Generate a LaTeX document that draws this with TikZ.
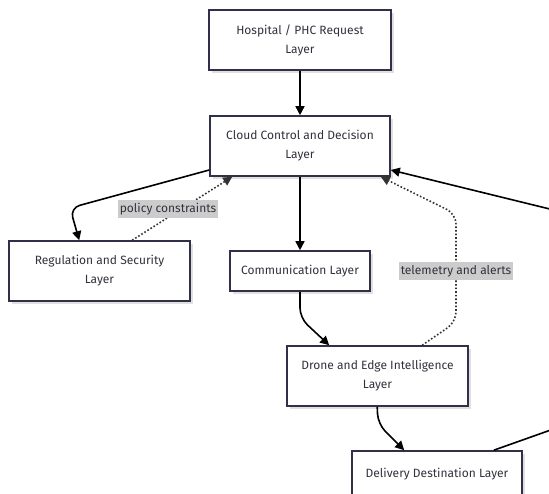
\documentclass[tikz,border=0pt]{standalone}
\usepackage{fontspec}
\setmainfont{Fira Sans}
\usetikzlibrary{arrows.meta,calc,shadows}
\definecolor{boxline}{RGB}{48,48,72}
\definecolor{txt}{RGB}{50,50,62}
\definecolor{lblbg}{RGB}{204,204,204}
\tikzset{
  layer/.style={draw=boxline, line width=1.6pt, fill=white, text=txt, align=center,
    font=\fontsize{12}{19}\selectfont, inner sep=0pt,
    drop shadow={shadow xshift=3pt, shadow yshift=-3pt, fill=black!12, opacity=1}},
  arr/.style={line width=1.6pt, draw=black, -{Triangle[length=9pt,width=9pt]}, rounded corners=10pt},
  darr/.style={line width=1.6pt, draw=black!80, dotted, -{Triangle[length=9pt,width=9pt]}, rounded corners=10pt},
  lbl/.style={fill=lblbg, text=txt, font=\fontsize{12}{14}\selectfont, inner xsep=2pt, inner ysep=3.5pt}
}
\begin{document}
\begin{tikzpicture}[x=1pt,y=-1pt]
\useasboundingbox (0,0) rectangle (549,493);
\node[layer, minimum width=182pt, minimum height=60pt] (hosp) at (300,40) {Hospital / PHC Request\\Layer};
\node[layer, minimum width=180pt, minimum height=60pt] (cloud) at (300,146) {Cloud Control and Decision\\Layer};
\node[layer, minimum width=181pt, minimum height=60pt] (reg) at (99.5,271) {Regulation and Security\\Layer};
\node[layer, minimum width=140pt, minimum height=40pt] (comm) at (300,271) {Communication Layer};
\node[layer, minimum width=181pt, minimum height=60pt] (drone) at (377.5,376) {Drone and Edge Intelligence\\Layer};
\node[layer, minimum width=170pt, minimum height=46pt] (deliv) at (437,474) {Delivery Destination Layer};

\draw[arr] (hosp.south) -- (cloud.north);
\draw[arr] ($(cloud.west)+(0,24)$) -- (70,208) -- ($(reg.north west)+(71,0)$);
\draw[darr] ($(reg.north west)+(124,0)$) -- ($(cloud.south west)+(23,0)$);
\draw[arr] (cloud.south) -- (comm.north);
\draw[arr] (comm.south) -- (300,318) -- ($(drone.north west)+(43,0)$);
\draw[darr] ($(drone.north west)+(136,0)$) -- (456,322) -- (456,214) -- ($(cloud.south east)+(-10,0)$);
\draw[arr] ($(drone.south west)+(91,0)$) -- (378,424) -- ($(deliv.north west)+(53,0)$);
\draw[arr] ($(deliv.north east)+(-29,0)$) -- (562,426) -- (562,212) -- ($(cloud.east)+(0,24)$);

\node[lbl] (l1) at (168,209) {policy constraints};
\node[lbl] (l2) at (456,271) {telemetry and alerts};
\end{tikzpicture}
\end{document}
